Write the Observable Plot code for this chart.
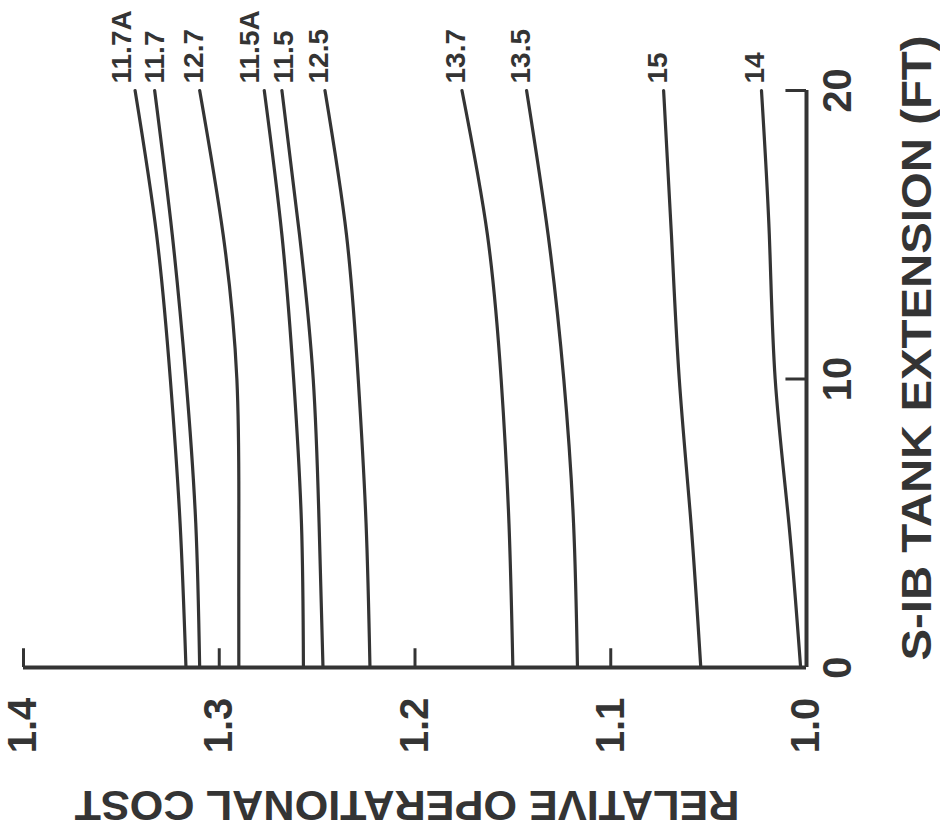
<!DOCTYPE html>
<html>
<head>
<meta charset="utf-8">
<script src="https://cdn.jsdelivr.net/npm/d3@7"></script>
<script src="https://cdn.jsdelivr.net/npm/@observablehq/plot@0.6"></script>
<style>
  html, body { margin: 0; padding: 0; background: #ffffff; }
  #chart svg { display: block; }
</style>
</head>
<body>
<div id="chart"></div>
<script>
// S-IB tank extension (ft) at which each cost curve is sampled
const extensionFt = [0, 5, 10, 15, 20];

// Vehicle cases, one curve each
const cases = ["11.7A", "11.7", "12.7", "11.5A", "11.5", "12.5", "13.7", "13.5", "15", "14"];

// Relative operational cost of each case along the extension samples
const cost117A = [1.317, 1.320, 1.325, 1.332, 1.343];
const cost117  = [1.310, 1.312, 1.317, 1.324, 1.333];
const cost127  = [1.290, 1.290, 1.291, 1.298, 1.310];
const cost115A = [1.257, 1.258, 1.262, 1.268, 1.277];
const cost115  = [1.247, 1.249, 1.252, 1.259, 1.268];
const cost125  = [1.223, 1.225, 1.229, 1.235, 1.246];
const cost137  = [1.150, 1.152, 1.156, 1.163, 1.176];
const cost135  = [1.117, 1.119, 1.124, 1.132, 1.143];
const cost15   = [1.054, 1.059, 1.065, 1.069, 1.073];
const cost14   = [1.003, 1.009, 1.016, 1.019, 1.023];

// Axis ticks and titles
const costTicks = [1.0, 1.1, 1.2, 1.3, 1.4];
const extensionTicks = [0, 10, 20];
const costTitle = "RELATIVE OPERATIONAL COST";
const extensionTitle = "S-IB TANK EXTENSION (FT)";

const costSeries = [cost117A, cost117, cost127, cost115A, cost115, cost125, cost137, cost135, cost15, cost14];

const rows = cases.flatMap((c, i) =>
  extensionFt.map((e, j) => ({case: c, ext: e, cost: costSeries[i][j]}))
);

// Curve labels sit above the 20 ft end of each curve; close neighbours are
// nudged apart so the rotated labels do not overlap.
const minLabelGap = 0.017;
const labels = rows.filter(d => d.ext === 20)
  .map(d => ({case: d.case, ext: d.ext, pos: d.cost}))
  .sort((a, b) => b.pos - a.pos);
for (let k = 0; k < 20; k++) {
  for (let i = 1; i < labels.length; i++) {
    const gap = labels[i - 1].pos - labels[i].pos;
    if (gap < minLabelGap) {
      const push = (minLabelGap - gap) / 2;
      labels[i - 1].pos += push;
      labels[i].pos -= push;
    }
  }
}

const ink = "#343434";
const font = "'Liberation Sans', Arial, sans-serif";

const chart = Plot.plot({
  width: 940,
  height: 834,
  marginLeft: 23,
  marginRight: 134,
  marginTop: 90,
  marginBottom: 167,
  style: {background: "#ffffff", fontFamily: font, color: ink},
  x: {domain: [1.0, 1.4], reverse: true, axis: null},
  y: {domain: [0, 20], axis: null},
  marks: [
    // cost curves
    Plot.line(rows, {x: "cost", y: "ext", z: "case", curve: "natural", stroke: ink, strokeWidth: 3.2}),
    // axis lines
    Plot.ruleY([0], {x1: 1.4, x2: 1.0, stroke: ink, strokeWidth: 4}),
    Plot.ruleX([1.0], {y1: 0, y2: 20, stroke: ink, strokeWidth: 4}),
    // inward ticks
    Plot.ruleX(costTicks.slice(1), {x: d => d, y1: 0, y2: 0.65, stroke: ink, strokeWidth: 3}),
    Plot.ruleY(extensionTicks.slice(1), {y: d => d, x1: 1.0, x2: 1.0105, stroke: ink, strokeWidth: 3}),
    // tick labels
    Plot.text(costTicks, {x: d => d, y: 0, text: d => d.toFixed(1), rotate: -90, dy: 58,
      fontSize: 40, fontWeight: "bold", fill: ink}),
    Plot.text(extensionTicks, {x: 1.0, y: d => d, text: d => String(d), rotate: -90, dx: 32,
      fontSize: 40, fontWeight: "bold", fill: ink}),
    // curve labels
    Plot.text(labels, {x: "pos", y: "ext", text: "case", rotate: -90, textAnchor: "start",
      lineAnchor: "middle", dx: -6, dy: -7, fontSize: 28, fontWeight: "bold", fill: ink}),
    // axis titles
    Plot.text([costTitle], {frameAnchor: "bottom", text: d => d, rotate: 180, textAnchor: "middle",
      lineAnchor: "middle", dx: -8, dy: 137, fontSize: 43, fontWeight: "bold", fill: ink}),
    Plot.text([extensionTitle], {frameAnchor: "right", text: d => d, rotate: -90, textAnchor: "middle",
      lineAnchor: "middle", dx: 111, dy: -31, fontSize: 43, fontWeight: "bold", fill: ink})
  ]
});

// stretch the two axis titles to their lettered width
d3.select(chart).selectAll("text").each(function () {
  const t = this.textContent;
  if (t === costTitle) d3.select(this).attr("textLength", 665).attr("lengthAdjust", "spacingAndGlyphs");
  if (t === extensionTitle) d3.select(this).attr("textLength", 625).attr("lengthAdjust", "spacingAndGlyphs");
});

document.getElementById("chart").append(chart);
</script>
</body>
</html>
